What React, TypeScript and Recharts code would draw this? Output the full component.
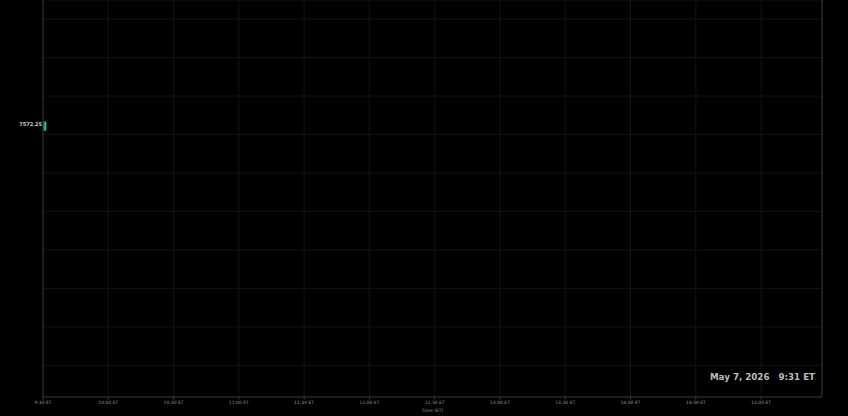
import {
  ComposedChart,
  Bar,
  XAxis,
  YAxis,
  CartesianGrid,
  ReferenceLine,
} from "recharts";

// minutes since midnight (ET)
const timeDomain = [570, 928];
const timeTicks = [570, 600, 630, 660, 690, 720, 750, 780, 810, 840, 870, 900];
const timeLabels = [
  "9:30 ET", "10:00 ET", "10:30 ET", "11:00 ET", "11:30 ET", "12:00 ET",
  "12:30 ET", "13:00 ET", "13:30 ET", "14:00 ET", "14:30 ET", "15:00 ET",
];

const priceDomain = [7563.3, 7576.2];
const priceGrid = [
  7575.58, 7574.33, 7573.08, 7571.83, 7570.58,
  7569.33, 7568.08, 7566.83, 7565.58, 7564.33,
];

const candleTimes = [570.6];
const candleOpen = [7571.95];
const candleClose = [7572.25];
const candleHigh = [7572.25];
const candleLow = [7571.95];

const lastPrice = 7572.25;
const stampDate = "May 7, 2026";
const stampTime = "9:31 ET";

const UP = "#26c98f";
const GRID = "#141414";
const AXIS = "#333333";

const candles = candleTimes.map((t, i) => ({
  t,
  body: [Math.min(candleOpen[i], candleClose[i]), Math.max(candleOpen[i], candleClose[i])],
  wick: [candleLow[i], candleHigh[i]],
}));

const fmtTime = (v: number) => {
  const i = timeTicks.indexOf(v);
  return i >= 0 ? timeLabels[i] : "";
};

// price ticks only feed the grid, no labels
const NoTick = () => <g />;

export default function App() {
  return (
    <div style={{ position: "relative", width: 848, height: 416, background: "#000" }}>
      <style>{"body{margin:0;background:#000}"}</style>
      <ComposedChart
        width={848}
        height={416}
        data={candles}
        margin={{ top: 0, right: 0, left: 0, bottom: 0 }}
        style={{ fontFamily: "DejaVu Sans, sans-serif" }}
      >
        <CartesianGrid yAxisId="p" stroke={GRID} strokeWidth={1} />
        <XAxis
          dataKey="t"
          type="number"
          domain={timeDomain}
          ticks={timeTicks}
          tickFormatter={fmtTime}
          height={19}
          stroke={AXIS}
          tickSize={3}
          tickMargin={1}
          tick={{ fill: "#9a9a9a", stroke: "none", fontSize: 4.5 }}
          label={{ value: "Time (ET)", position: "insideBottom", offset: 4, fill: "#9a9a9a", fontSize: 4.5 }}
          allowDataOverflow
        />
        <YAxis
          yAxisId="p"
          domain={priceDomain}
          ticks={priceGrid}
          interval={0}
          width={43}
          tick={NoTick}
          tickLine={false}
          stroke={AXIS}
          allowDataOverflow
        />
        <YAxis
          yAxisId="r"
          orientation="right"
          width={26}
          tick={false}
          tickLine={false}
          stroke={AXIS}
        />
        <Bar yAxisId="p" dataKey="wick" barSize={1} fill={UP} isAnimationActive={false} />
        <Bar yAxisId="p" dataKey="body" barSize={2} fill={UP} isAnimationActive={false} />
        <ReferenceLine
          yAxisId="p"
          y={lastPrice}
          stroke="transparent"
          label={{
            value: lastPrice.toFixed(2),
            position: "left",
            offset: 1,
            dy: 3,
            fill: "#cfcfcf",
            fontSize: 5,
            fontWeight: "bold",
          }}
        />
      </ComposedChart>
      <div
        style={{
          position: "absolute",
          right: 33,
          top: 372,
          fontFamily: "DejaVu Sans, sans-serif",
          fontWeight: "bold",
          fontSize: 8.7,
          color: "#bdbdbd",
          whiteSpace: "pre",
          lineHeight: "10px",
        }}
      >
        {stampDate + "   " + stampTime}
      </div>
    </div>
  );
}
